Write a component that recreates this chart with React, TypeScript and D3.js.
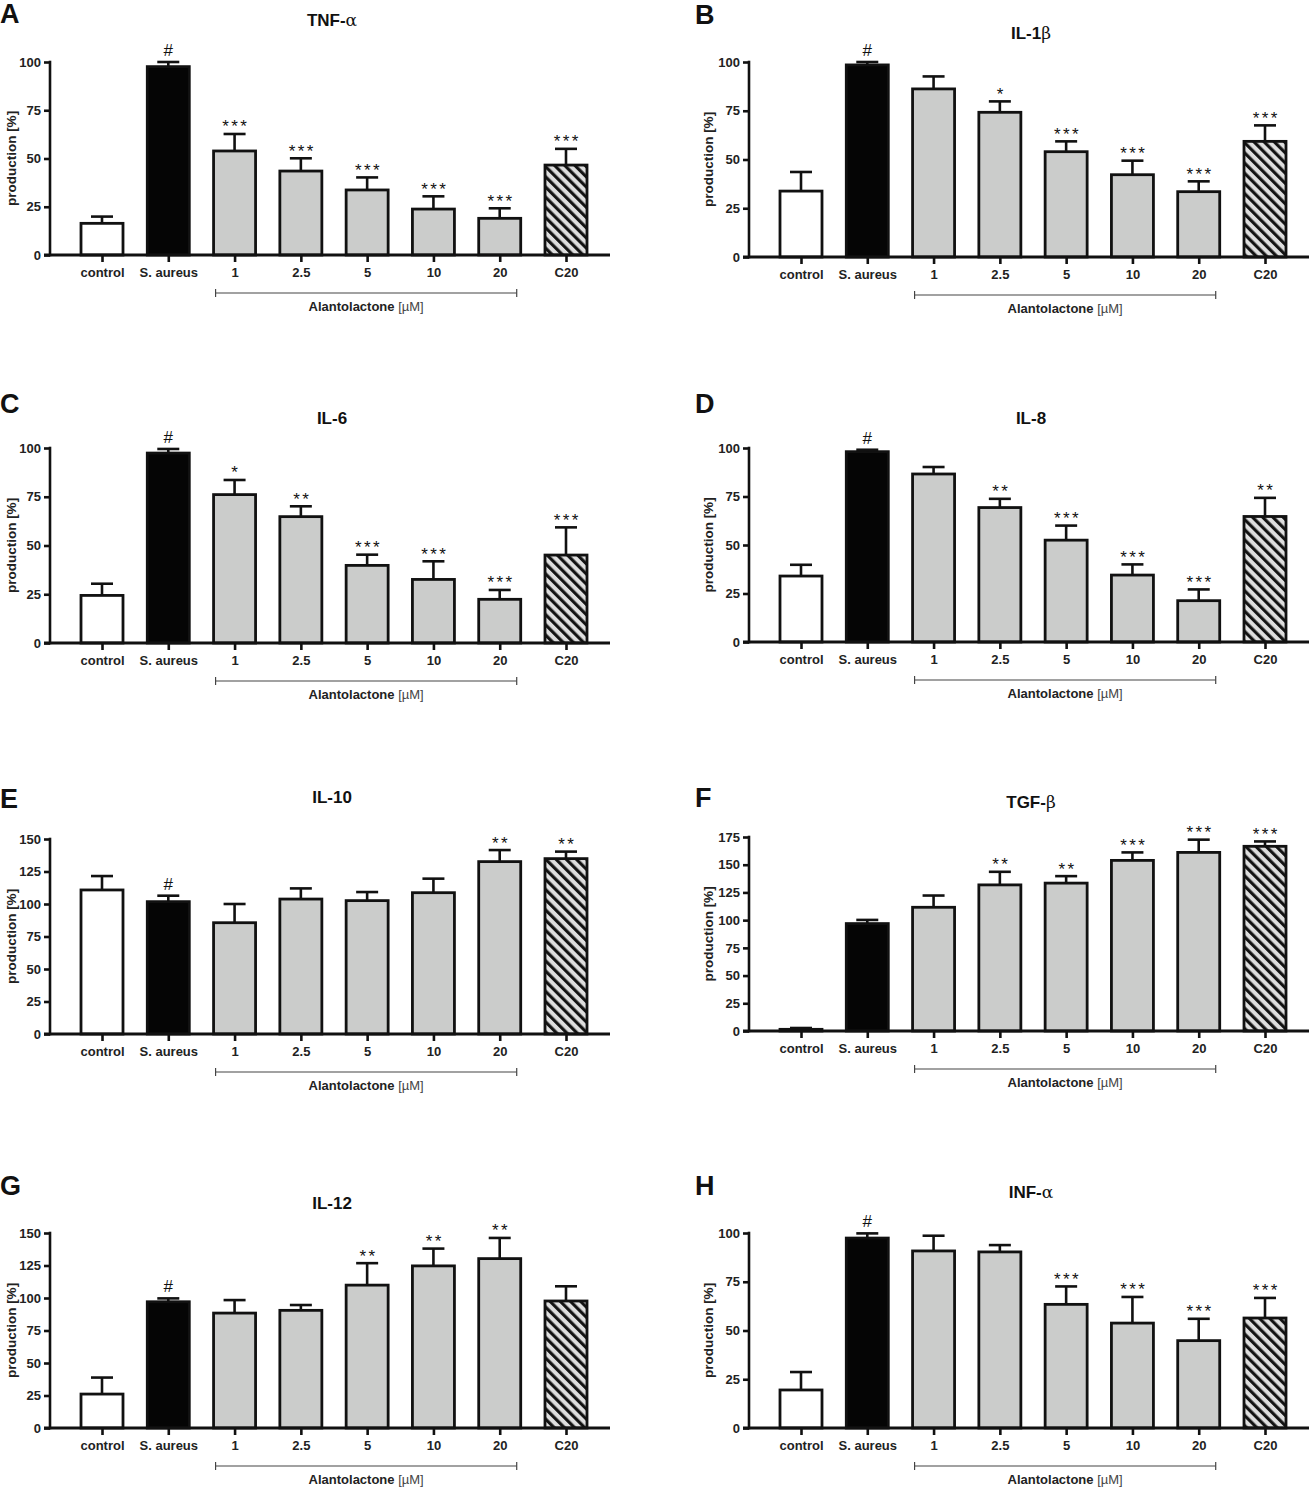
import React, { useEffect, useRef } from 'react';
import * as d3 from 'd3';

// groups on the x axis of every panel
const categories = ['control', 'S. aureus', '1', '2.5', '5', '10', '20', 'C20'];
const doseGroups = ['1', '2.5', '5', '10', '20'];

// y tick sets
const ticks100 = [0, 25, 50, 75, 100];
const ticks150 = [0, 25, 50, 75, 100, 125, 150];
const ticks175 = [0, 25, 50, 75, 100, 125, 150, 175];

// A - TNF-alpha
const tnfMean = [16.4, 97.6, 53.9, 43.5, 33.7, 23.8, 19.0, 46.6];
const tnfSem = [3.5, 2.4, 8.8, 6.6, 6.5, 6.6, 5.2, 8.4];
const tnfSig = ['', '#', '***', '***', '***', '***', '***', '***'];

// B - IL-1beta
const il1bMean = [33.8, 98.5, 86.2, 74.2, 54.0, 42.2, 33.5, 59.3];
const il1bSem = [9.8, 1.5, 6.4, 5.6, 5.3, 7.2, 5.3, 8.2];
const il1bSig = ['', '#', '', '*', '***', '***', '***', '***'];

// C - IL-6
const il6Mean = [24.4, 97.4, 76.1, 64.8, 39.8, 32.6, 22.4, 45.1];
const il6Sem = [6.0, 2.1, 7.5, 5.3, 5.5, 9.3, 4.8, 14.2];
const il6Sig = ['', '#', '*', '**', '***', '***', '***', '***'];

// D - IL-8
const il8Mean = [34.0, 98.1, 86.6, 69.3, 52.5, 34.5, 21.3, 64.7];
const il8Sem = [5.8, 1.0, 3.6, 4.5, 7.5, 5.5, 5.8, 9.6];
const il8Sig = ['', '#', '', '**', '***', '***', '***', '**'];

// E - IL-10
const il10Mean = [110.8, 101.8, 85.6, 103.8, 102.6, 108.7, 132.6, 134.9];
const il10Sem = [10.7, 4.6, 14.4, 8.2, 6.6, 10.8, 8.9, 5.4];
const il10Sig = ['', '#', '', '', '', '', '**', '**'];

// F - TGF-beta
const tgfMean = [1.5, 96.9, 111.6, 131.8, 133.4, 153.9, 161.1, 166.6];
const tgfSem = [1.2, 3.3, 10.6, 11.8, 6.3, 7.2, 11.5, 4.4];
const tgfSig = ['', '', '', '**', '**', '***', '***', '***'];

// G - IL-12
const il12Mean = [26.1, 97.1, 88.4, 90.5, 109.9, 124.7, 130.3, 97.7];
const il12Sem = [12.7, 2.6, 10.0, 4.1, 16.9, 13.3, 15.9, 11.3];
const il12Sig = ['', '#', '', '', '**', '**', '**', ''];

// H - INF-alpha
const infMean = [19.5, 97.4, 90.8, 90.3, 63.4, 53.8, 44.8, 56.4];
const infSem = [9.2, 2.4, 7.8, 3.5, 9.2, 13.4, 11.2, 10.3];
const infSig = ['', '#', '', '', '***', '***', '***', '***'];

interface Panel {
    letter: string;
    name: string;
    greek: string;
    mean: number[];
    sem: number[];
    sig: string[];
    ticks: number[];
    column: number;
    y0: number;
    yTop: number;
    titleY: number;
    letterY: number;
}

const panels: Panel[] = [
    { letter: 'A', name: 'TNF-', greek: 'α', mean: tnfMean, sem: tnfSem, sig: tnfSig, ticks: ticks100, column: 0, y0: 255, yTop: 62, titleY: 26, letterY: 23 },
    { letter: 'B', name: 'IL-1', greek: 'β', mean: il1bMean, sem: il1bSem, sig: il1bSig, ticks: ticks100, column: 1, y0: 257, yTop: 62, titleY: 39, letterY: 24 },
    { letter: 'C', name: 'IL-6', greek: '', mean: il6Mean, sem: il6Sem, sig: il6Sig, ticks: ticks100, column: 0, y0: 643, yTop: 448, titleY: 424, letterY: 413 },
    { letter: 'D', name: 'IL-8', greek: '', mean: il8Mean, sem: il8Sem, sig: il8Sig, ticks: ticks100, column: 1, y0: 642, yTop: 448, titleY: 424, letterY: 413 },
    { letter: 'E', name: 'IL-10', greek: '', mean: il10Mean, sem: il10Sem, sig: il10Sig, ticks: ticks150, column: 0, y0: 1034, yTop: 839, titleY: 803, letterY: 808 },
    { letter: 'F', name: 'TGF-', greek: 'β', mean: tgfMean, sem: tgfSem, sig: tgfSig, ticks: ticks175, column: 1, y0: 1031, yTop: 837, titleY: 808, letterY: 807 },
    { letter: 'G', name: 'IL-12', greek: '', mean: il12Mean, sem: il12Sem, sig: il12Sig, ticks: ticks150, column: 0, y0: 1428, yTop: 1233, titleY: 1209, letterY: 1195 },
    { letter: 'H', name: 'INF-', greek: 'α', mean: infMean, sem: infSem, sig: infSig, ticks: ticks100, column: 1, y0: 1428, yTop: 1233, titleY: 1198, letterY: 1195 },
];

const FONT = '"Liberation Sans", Arial, Helvetica, sans-serif';
const INK = '#111';

const CytokineFigure: React.FC = () => {
    const svgRef = useRef<SVGSVGElement>(null);

    useEffect(() => {
        if (!svgRef.current) return;
        const svg = d3.select(svgRef.current);
        svg.selectAll('*').remove();

        // hatch for the C20 bars
        const pattern = svg.append('defs')
            .append('pattern')
            .attr('id', 'hatch')
            .attr('patternUnits', 'userSpaceOnUse')
            .attr('width', 7.2)
            .attr('height', 7.2)
            .attr('patternTransform', 'rotate(-45)');
        pattern.append('rect').attr('width', 7.2).attr('height', 7.2).attr('fill', '#dedede');
        pattern.append('line')
            .attr('x1', 1.6).attr('x2', 1.6)
            .attr('y1', 0).attr('y2', 7.2)
            .attr('stroke', '#111').attr('stroke-width', 3.1);

        const fills = ['#ffffff', '#050505', '#cbcccb', '#cbcccb', '#cbcccb', '#cbcccb', '#cbcccb', 'url(#hatch)'];

        panels.forEach((p) => {
            const x0 = p.column === 0 ? 50 : 749;
            const x1 = x0 + 560;
            const barW = 42;

            const x = d3.scalePoint<string>()
                .domain(categories)
                .range([x0 + 52, x1 - 44]);
            const y = d3.scaleLinear()
                .domain([0, p.ticks[p.ticks.length - 1]])
                .range([p.y0, p.yTop]);

            const g = svg.append('g');

            // panel letter
            g.append('text')
                .attr('x', p.column === 0 ? 0 : 695)
                .attr('y', p.letterY)
                .attr('font-family', FONT)
                .attr('font-weight', 'bold')
                .attr('font-size', 27)
                .attr('fill', INK)
                .text(p.letter);

            // title
            const title = g.append('text')
                .attr('x', (x0 + x1) / 2 + 2)
                .attr('y', p.titleY)
                .attr('text-anchor', 'middle')
                .attr('font-family', FONT)
                .attr('font-weight', 'bold')
                .attr('font-size', 17)
                .attr('fill', INK);
            title.append('tspan').text(p.name);
            if (p.greek) {
                title.append('tspan')
                    .attr('font-weight', 'normal')
                    .attr('font-family', '"DejaVu Serif", serif')
                    .text(p.greek);
            }

            // bars
            g.selectAll('rect.bar')
                .data(p.mean)
                .join('rect')
                .attr('class', 'bar')
                .attr('x', (d, i) => (x(categories[i]) as number) - barW / 2)
                .attr('y', (d) => y(d))
                .attr('width', barW)
                .attr('height', (d) => p.y0 - y(d))
                .attr('fill', (d, i) => fills[i])
                .attr('stroke', INK)
                .attr('stroke-width', 2.8);

            // upper error bars
            const err = g.selectAll('g.err')
                .data(p.mean.map((m, i) => ({ m, s: p.sem[i], c: categories[i] })))
                .join('g')
                .attr('class', 'err');
            err.append('line')
                .attr('x1', (d) => x(d.c) as number)
                .attr('x2', (d) => x(d.c) as number)
                .attr('y1', (d) => y(d.m))
                .attr('y2', (d) => y(d.m + d.s))
                .attr('stroke', INK)
                .attr('stroke-width', 2.6);
            err.append('line')
                .attr('x1', (d) => (x(d.c) as number) - 11)
                .attr('x2', (d) => (x(d.c) as number) + 11)
                .attr('y1', (d) => y(d.m + d.s))
                .attr('y2', (d) => y(d.m + d.s))
                .attr('stroke', INK)
                .attr('stroke-width', 2.6);

            // significance marks
            g.selectAll('text.sig')
                .data(p.sig.map((s, i) => ({ s, top: p.mean[i] + p.sem[i], c: categories[i] })).filter((d) => d.s))
                .join('text')
                .attr('class', 'sig')
                .attr('x', (d) => (x(d.c) as number) + (d.s === '#' ? 0 : 1.3))
                .attr('y', (d) => y(d.top) - (d.s === '#' ? 6 : 1.5))
                .attr('text-anchor', 'middle')
                .attr('font-family', FONT)
                .attr('font-size', (d) => (d.s === '#' ? 17 : 17))
                .attr('letter-spacing', (d) => (d.s === '#' ? 0 : 2.4))
                .attr('fill', INK)
                .text((d) => d.s);

            // y axis
            const yAxis = g.append('g')
                .attr('transform', `translate(${x0},0)`)
                .call(d3.axisLeft(y).tickValues(p.ticks).tickSize(6).tickSizeOuter(0).tickPadding(3));
            yAxis.select('.domain').remove();
            yAxis.selectAll('.tick line').attr('stroke', INK).attr('stroke-width', 2.6);
            yAxis.selectAll('.tick text')
                .attr('font-family', FONT)
                .attr('font-weight', 'bold')
                .attr('font-size', 13)
                .attr('fill', '#222');
            g.append('line')
                .attr('x1', x0).attr('x2', x0)
                .attr('y1', p.y0 + 1.3).attr('y2', p.yTop - 1.3)
                .attr('stroke', INK).attr('stroke-width', 2.6);

            // x axis
            const xAxis = g.append('g')
                .attr('transform', `translate(0,${p.y0})`)
                .call(d3.axisBottom(x).tickSize(7).tickSizeOuter(0).tickPadding(6));
            xAxis.select('.domain').remove();
            xAxis.selectAll('.tick line').attr('stroke', INK).attr('stroke-width', 2.6);
            xAxis.selectAll('.tick text')
                .attr('font-family', FONT)
                .attr('font-weight', 'bold')
                .attr('font-size', 13)
                .attr('fill', '#222');
            g.append('line')
                .attr('x1', x0 - 6).attr('x2', x1)
                .attr('y1', p.y0).attr('y2', p.y0)
                .attr('stroke', INK).attr('stroke-width', 2.8);

            // y axis title
            const midY = (p.y0 + p.yTop) / 2;
            const labelX = p.column === 0 ? 16 : x0 - 36;
            g.append('text')
                .attr('transform', `translate(${labelX},${midY}) rotate(-90)`)
                .attr('text-anchor', 'middle')
                .attr('font-family', FONT)
                .attr('font-weight', 'bold')
                .attr('font-size', 13.5)
                .attr('fill', '#222')
                .text('production [%]');

            // Alantolactone bracket
            const bx1 = (x(doseGroups[0]) as number) - 19;
            const bx2 = (x(doseGroups[doseGroups.length - 1]) as number) + 17;
            const by = p.y0 + 38;
            g.append('line')
                .attr('x1', bx1).attr('x2', bx2).attr('y1', by).attr('y2', by)
                .attr('stroke', '#444').attr('stroke-width', 1.2);
            [bx1, bx2].forEach((bx) => {
                g.append('line')
                    .attr('x1', bx).attr('x2', bx).attr('y1', by - 4).attr('y2', by + 4)
                    .attr('stroke', '#444').attr('stroke-width', 1.2);
            });
            const alan = g.append('text')
                .attr('x', (bx1 + bx2) / 2)
                .attr('y', p.y0 + 56)
                .attr('text-anchor', 'middle')
                .attr('font-family', FONT)
                .attr('font-size', 13)
                .attr('fill', '#222');
            alan.append('tspan').attr('font-weight', 'bold').text('Alantolactone ');
            alan.append('tspan').attr('fill', '#444').text('[µM]');
        });
    }, []);

    return (
        <svg
            ref={svgRef}
            width={1312}
            height={1489}
            style={{ position: 'absolute', left: 0, top: 0, background: '#fff' }}
        />
    );
};

export default function App() {
    return <CytokineFigure />;
}
